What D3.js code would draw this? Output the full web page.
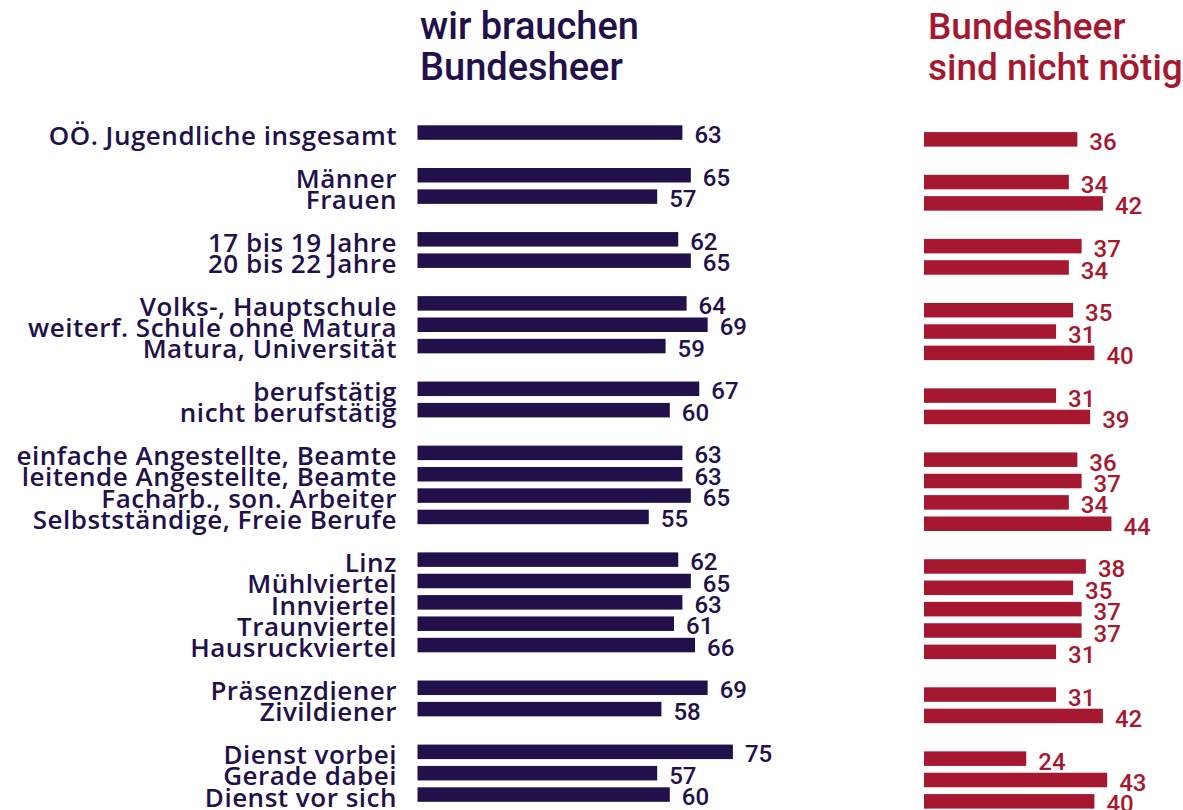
<!DOCTYPE html>
<html>
<head>
<meta charset="utf-8">
<script src="https://d3js.org/d3.v7.min.js"></script>
<style>
  html, body { margin: 0; padding: 0; background: #ffffff; }
  svg { display: block; }
</style>
</head>
<body>
<svg id="chart" width="1183" height="810"></svg>
<script>
// ---- data ----
const categories = [
  "OÖ. Jugendliche insgesamt",
  "Männer", "Frauen",
  "17 bis 19 Jahre", "20 bis 22 Jahre",
  "Volks-, Hauptschule", "weiterf. Schule ohne Matura", "Matura, Universität",
  "berufstätig", "nicht berufstätig",
  "einfache Angestellte, Beamte", "leitende Angestellte, Beamte", "Facharb., son. Arbeiter", "Selbstständige, Freie Berufe",
  "Linz", "Mühlviertel", "Innviertel", "Traunviertel", "Hausruckviertel",
  "Präsenzdiener", "Zivildiener",
  "Dienst vorbei", "Gerade dabei", "Dienst vor sich"
];
const groupSizes = [1, 2, 2, 3, 2, 4, 5, 2, 3];
const brauchen = [63, 65, 57, 62, 65, 64, 69, 59, 67, 60, 63, 63, 65, 55, 62, 65, 63, 61, 66, 69, 58, 75, 57, 60];
const nichtNoetig = [36, 34, 42, 37, 34, 35, 31, 40, 31, 39, 36, 37, 34, 44, 38, 35, 37, 37, 31, 31, 42, 24, 43, 40];
const titleLeft = ["wir brauchen", "Bundesheer"];
const titleRight = ["Bundesheer", "sind nicht nötig"];

// ---- layout ----
const colLeft = "#22104a";
const colRight = "#a5182f";
const labelFont = "'Open Sans', 'Liberation Sans', Arial, sans-serif";
const numFont = "Roboto, 'Liberation Sans', sans-serif";

// slot index: one empty slot between groups
const slots = [];
{
  let s = 0, k = 0;
  groupSizes.forEach((n) => {
    for (let j = 0; j < n; j++) { slots[k++] = s++; }
    s++;
  });
}
const rows = categories.map((c, i) => ({ cat: c, slot: slots[i], a: brauchen[i], b: nichtNoetig[i] }));

const svg = d3.select("#chart");
const barH = 14.5;
const y = d3.scaleLinear().domain([0, 31]).range([125.3, 787.3]);
const xL = d3.scaleLinear().domain([0, 75]).range([417.5, 417.5 + 75 * 4.205]);
const xR = d3.scaleLinear().domain([0, 44]).range([924, 924 + 44 * 4.26]);
const rOff = 6.8;

// titles
const tl = svg.append("g").attr("fill", colLeft)
  .style("font-family", numFont).style("font-weight", 500).style("font-size", "38px");
titleLeft.forEach((t, i) => tl.append("text").attr("x", 420).attr("y", 38.5 + i * 41.5).text(t));
const tr = svg.append("g").attr("fill", colRight)
  .style("font-family", numFont).style("font-weight", 500).style("font-size", "37px");
titleRight.forEach((t, i) => tr.append("text").attr("x", 928).attr("y", 38.5 + i * 41.5).text(t));

// category labels
const labels = svg.append("g").selectAll("text").data(rows).join("text")
  .attr("x", 397).attr("y", d => y(d.slot) + 19.5)
  .attr("text-anchor", "end")
  .attr("fill", colLeft)
  .style("font-family", labelFont).style("font-weight", 600).style("font-size", "24px")
  .text(d => d.cat);
// fit the widest label to the reference label column width (17 .. 397)
{
  const widest = d3.max(labels.nodes(), n => n.getComputedTextLength());
  const fs = 24 * 380 / widest;
  labels.style("font-size", Math.min(fs, 26) + "px");
  const widest2 = d3.max(labels.nodes(), n => n.getComputedTextLength());
  if (widest2 < 376) {
    labels.each(function () {
      const n = this.textContent.length;
      d3.select(this).style("letter-spacing", ((380 - widest2) / 27) + "px");
    });
  }
}

// left bars
svg.append("g").selectAll("rect").data(rows).join("rect")
  .attr("x", xL(0)).attr("y", d => y(d.slot))
  .attr("width", d => xL(d.a) - xL(0)).attr("height", barH)
  .attr("fill", colLeft);
svg.append("g").selectAll("text").data(rows).join("text")
  .attr("x", d => xL(d.a) + 12).attr("y", d => y(d.slot) + 17.8)
  .attr("fill", colLeft)
  .style("font-family", numFont).style("font-weight", 500).style("font-size", "24px")
  .text(d => d.a);

// right bars
svg.append("g").selectAll("rect").data(rows).join("rect")
  .attr("x", xR(0)).attr("y", d => y(d.slot) + rOff)
  .attr("width", d => xR(d.b) - xR(0)).attr("height", barH)
  .attr("fill", colRight);
svg.append("g").selectAll("text").data(rows).join("text")
  .attr("x", d => xR(d.b) + 12).attr("y", d => y(d.slot) + rOff + 18.3)
  .attr("fill", colRight)
  .style("font-family", numFont).style("font-weight", 500).style("font-size", "24px")
  .text(d => d.b);
</script>
</body>
</html>
